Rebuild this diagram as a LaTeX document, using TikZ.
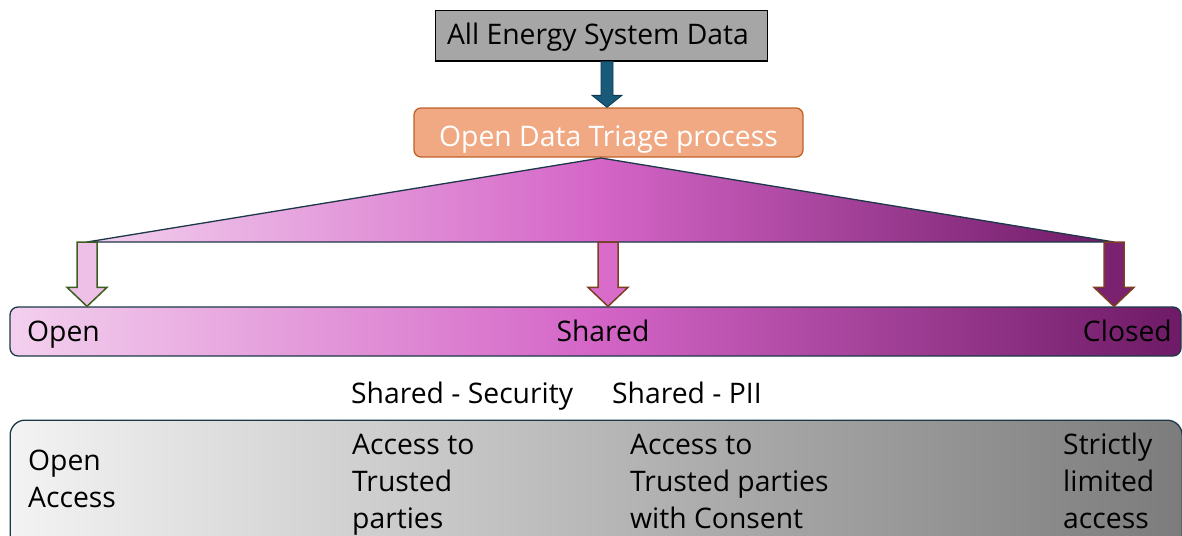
\documentclass[tikz,border=0pt]{standalone}
\usepackage{fontspec}
\setmainfont{Open Sans}
\usetikzlibrary{calc}

\definecolor{topgray}{HTML}{A6A6A6}
\definecolor{triagefill}{HTML}{F1A983}
\definecolor{triageedge}{HTML}{C0622B}
\definecolor{flowblue}{HTML}{195A7A}
\definecolor{flowblueedge}{HTML}{0E3A52}
\definecolor{edgeblue}{HTML}{1C3848}
\definecolor{pinkL}{HTML}{F3D0EE}
\definecolor{pinkM}{HTML}{D465C7}
\definecolor{pinkR}{HTML}{6E1A66}
\definecolor{grayL}{HTML}{F3F3F3}
\definecolor{grayR}{HTML}{7C7C7C}
\definecolor{greenedge}{HTML}{3B5E1F}
\definecolor{brownedge}{HTML}{7E3E22}
\definecolor{midpink}{HTML}{D96CCB}
\definecolor{darkplum}{HTML}{7A2170}

\pgfdeclarehorizontalshading{magentaramp}{100bp}{%
  color(0bp)=(pinkL); color(25bp)=(pinkL); color(50bp)=(pinkM);
  color(75bp)=(pinkR); color(100bp)=(pinkR)}
\pgfdeclarehorizontalshading{grayramp}{100bp}{%
  color(0bp)=(grayL); color(25bp)=(grayL);
  color(75bp)=(grayR); color(100bp)=(grayR)}

\tikzset{
  txt/.style={font=\fontsize{28.3}{37}\selectfont, inner sep=0pt, text=black},
  blockarrow/.style={line width=1.5pt, line join=miter},
}

\begin{document}
\begin{tikzpicture}[x=1pt, y=-1pt]
\useasboundingbox (0,0) rectangle (1182,535);
\clip (0,0) rectangle (1182,535);

% source and triage boxes
\node[draw=black, line width=1pt, fill=topgray, minimum width=332pt,
      minimum height=50pt, inner sep=0pt] (all) at (601,36) {};
\node[txt, anchor=base] (allt) at (598,45) {All Energy System Data};
\node[draw=triageedge, line width=1.3pt, fill=triagefill, rounded corners=7pt,
      minimum width=389pt, minimum height=49pt, inner sep=0pt] (triage)
      at (608.5,132.5) {};
\node[txt, text=white, anchor=base] (triaget) at (608.5,146)
      {Open Data Triage process};

% arrow into the triage step
\coordinate (f0) at (all.south -| 607,0);
\coordinate (f1) at (triage.north -| 607,0);
\filldraw[fill=flowblue, draw=flowblueedge, line width=0.8pt]
  ($(f0)+(-6,0)$) -- ($(f0)+(6,0)$) -- ($(f1)+(6,-12)$) -- ($(f1)+(15,-12)$)
  -- (f1) -- ($(f1)+(-15,-12)$) -- ($(f1)+(-6,-12)$) -- cycle;

% fan-out triangle
\coordinate (apex) at (601,158);
\coordinate (bl) at (87,242);
\coordinate (bm) at (608,242);
\coordinate (br) at (1114,242);
\shadedraw[shading=magentaramp, draw=edgeblue, line width=1.3pt, line join=round]
  (apex) -- (bl) -- (br) -- cycle;

% classification bar
\node[draw=edgeblue, line width=1.3pt, rounded corners=8pt,
      shading=magentaramp, minimum width=1171pt, minimum height=49pt,
      inner sep=0pt] (bar) at (595.5,331.5) {};
\node[txt, anchor=base west] (open) at (27,341) {Open};
\node[txt, anchor=base] (shared) at (603,341) {Shared};
\node[txt, anchor=base east] (closed) at (1172,341) {Closed};

% block arrows down to the bar
\filldraw[blockarrow, fill=pinkL!85!pinkM, draw=greenedge]
  ($(bl)+(-10,0)$) -- ($(bl)+(10,0)$) -- ($(bl |- bar.north)+(10,-19)$)
  -- ($(bl |- bar.north)+(20,-19)$) -- (bl |- bar.north)
  -- ($(bl |- bar.north)+(-20,-19)$) -- ($(bl |- bar.north)+(-10,-19)$) -- cycle;
\filldraw[blockarrow, fill=midpink, draw=brownedge]
  ($(bm)+(-10,0)$) -- ($(bm)+(10,0)$) -- ($(bm |- bar.north)+(10,-19)$)
  -- ($(bm |- bar.north)+(20,-19)$) -- (bm |- bar.north)
  -- ($(bm |- bar.north)+(-20,-19)$) -- ($(bm |- bar.north)+(-10,-19)$) -- cycle;
\filldraw[blockarrow, fill=darkplum, draw=brownedge]
  ($(br)+(-10,0)$) -- ($(br)+(10,0)$) -- ($(br |- bar.north)+(10,-19)$)
  -- ($(br |- bar.north)+(20,-19)$) -- (br |- bar.north)
  -- ($(br |- bar.north)+(-20,-19)$) -- ($(br |- bar.north)+(-10,-19)$) -- cycle;

% sub-category labels
\node[txt, anchor=base west] (ssec) at (351,403) {Shared - Security};
\node[txt, anchor=base west] (spii) at (612,403) {Shared - PII};

% access level panel (multi-line nodes: base = last line's baseline)
\node[draw=edgeblue, line width=1.3pt, rounded corners=15pt,
      shading=grayramp, minimum width=1172pt, minimum height=160pt,
      inner sep=0pt, anchor=north west] (access) at (9.5,419.5) {};
\node[txt, anchor=base west, align=left] (aopen) at (28,507) {Open\\Access};
\node[txt, anchor=base west, align=left] (asec) at (352,528) {Access to\\Trusted\\parties};
\node[txt, anchor=base west, align=left] (apii) at (630,528) {Access to\\Trusted parties\\with Consent};
\node[txt, anchor=base west, align=left] (aclosed) at (1063,528) {Strictly\\limited\\access};
\end{tikzpicture}
\end{document}
